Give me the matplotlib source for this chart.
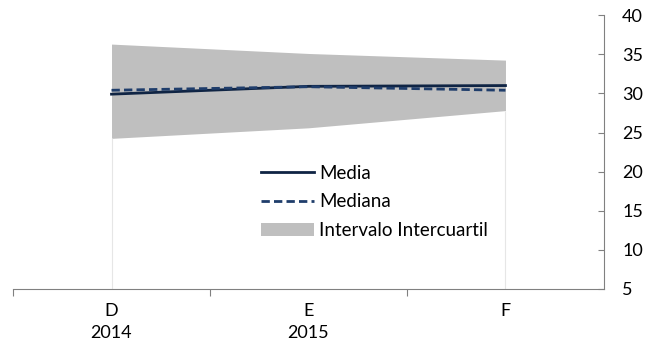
import numpy as np
import matplotlib.pyplot as plt

# Monthly series
periods = ["D\n2014", "E\n2015", "F"]
media = [29.9, 30.9, 31.0]
mediana = [30.4, 30.85, 30.4]
q_low = [24.25, 25.6, 27.8]
q_high = [36.3, 35.1, 34.25]

plt.rcParams['font.family'] = ['Lato', 'DejaVu Sans']

fig = plt.figure(figsize=(6.64, 3.52), dpi=100)
ax = fig.add_axes([0.0196, 0.179, 0.89, 0.778])

x = np.arange(len(periods))
ax.fill_between(x, q_low, q_high, color='#bfbfbf', lw=0, label='Intervalo Intercuartil')
ax.vlines([x[0], x[-1]], 5, [q_low[0], q_low[-1]], color='#e6e6e6', lw=0.8)
ax.plot(x, media, color='#0f2444', lw=2, label='Media')
ax.plot(x, mediana, color='#1f3d6b', lw=2, ls=(0, (3, 1.5)), label='Mediana')

ax.set_xlim(-0.5, 2.5)
ax.set_ylim(5, 40)
ax.set_yticks(range(5, 41, 5))
ax.yaxis.tick_right()
ax.tick_params(axis='y', direction='in', length=4, color='#808080',
               labelsize=13, pad=13)

ax.set_xticks([-0.5, 0.5, 1.5])
ax.set_xticklabels([])
ax.set_xticks(x, minor=True)
ax.set_xticklabels(periods, minor=True, fontsize=13, linespacing=1.5)
ax.tick_params(axis='x', which='major', direction='out', length=5, color='#808080')
ax.tick_params(axis='x', which='minor', length=0, pad=10)

for s in ['top', 'left']:
    ax.spines[s].set_visible(False)
ax.spines['right'].set_color('#808080')
ax.spines['bottom'].set_color('#808080')

h, l = ax.get_legend_handles_labels()
order = [1, 2, 0]
ax.legend([h[i] for i in order], [l[i] for i in order], frameon=False,
          fontsize=13.5, loc='center', bbox_to_anchor=(0.612, 0.318),
          handlelength=2.8, handletextpad=0.3, labelspacing=0.62,
          borderpad=0)

fig.savefig('out.png')
